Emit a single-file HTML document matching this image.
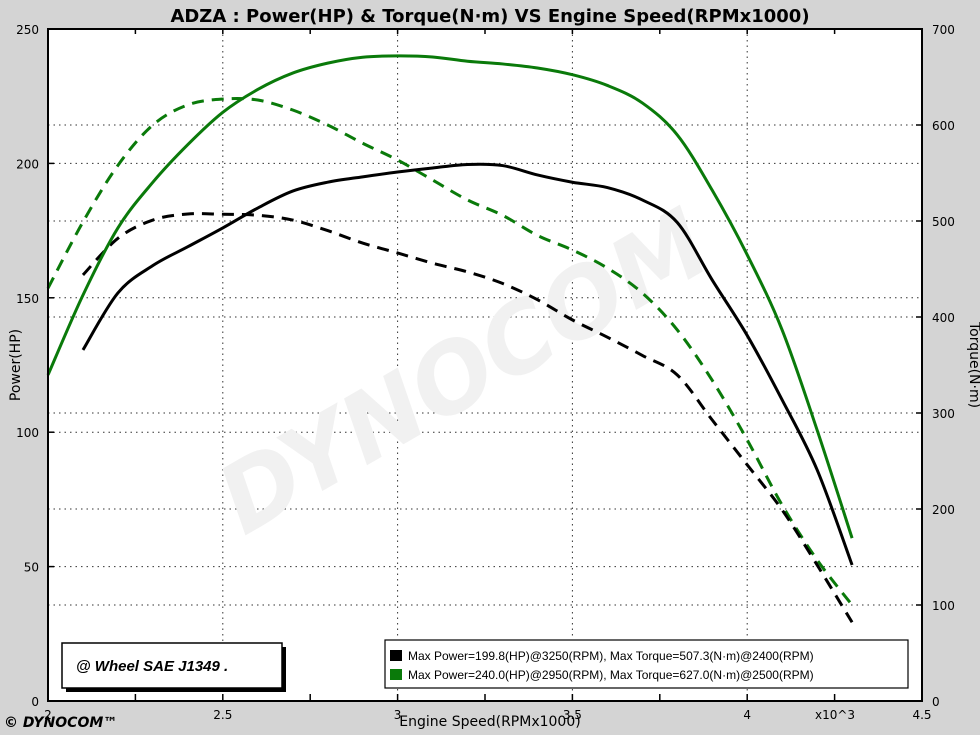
<!DOCTYPE html>
<html><head><meta charset="utf-8"><style>
html,body{margin:0;padding:0;background:#d4d4d4;}
svg{display:block;font-family:"DejaVu Sans","Liberation Sans",sans-serif;}
</style></head><body>
<svg id="chart" width="980" height="735" viewBox="0 0 980 735" xmlns="http://www.w3.org/2000/svg">
<rect x="0" y="0" width="980" height="735" fill="#d4d4d4"/>
<text x="490" y="22" text-anchor="middle" font-size="18" font-weight="bold" fill="#000">ADZA : Power(HP) &amp; Torque(N·m) VS Engine Speed(RPMx1000)</text>
<rect x="48" y="29" width="874" height="672" fill="#fff"/>
<g id="grid"></g>
<text transform="translate(480,400) rotate(-30)" text-anchor="middle" font-size="95" font-weight="bold" font-style="italic" fill="#f1f1f1">DYNOCOM</text>
<g id="series"></g>
<rect x="48" y="29" width="874" height="672" fill="none" stroke="#000" stroke-width="2"/>
<g id="axes"></g>
<text transform="translate(20,365) rotate(-90)" text-anchor="middle" font-size="14">Power(HP)</text>
<text transform="translate(970,365) rotate(90)" text-anchor="middle" font-size="14">Torque(N·m)</text>
<text x="490" y="726" text-anchor="middle" font-size="14">Engine Speed(RPMx1000)</text>
<text x="835" y="719" text-anchor="middle" font-size="12">x10^3</text>
<text x="4" y="727" font-size="14" font-weight="bold" font-style="italic">© DYNOCOM™</text>
<g>
<rect x="66" y="647" width="220" height="45" fill="#000"/>
<rect x="62" y="643" width="220" height="45" fill="#fff" stroke="#000" stroke-width="1.5"/>
<text x="76" y="671" font-size="15" font-weight="bold" font-style="italic" font-family="Liberation Sans,sans-serif">@ Wheel SAE J1349  .</text>
</g>
<g>
<rect x="385" y="640" width="523" height="48" fill="#fff" stroke="#000" stroke-width="1.2"/>
<rect x="390" y="650" width="12" height="11" fill="#000"/>
<text x="408" y="660" font-size="12" font-family="Liberation Sans,sans-serif">Max Power=199.8(HP)@3250(RPM), Max Torque=507.3(N·m)@2400(RPM)</text>
<rect x="390" y="669" width="12" height="11" fill="#0a7a0a"/>
<text x="408" y="679" font-size="12" font-family="Liberation Sans,sans-serif">Max Power=240.0(HP)@2950(RPM), Max Torque=627.0(N·m)@2500(RPM)</text>
</g>
</svg>
<script>
const rpm = [2.0,2.1,2.2,2.3,2.4,2.5,2.6,2.7,2.8,2.9,3.0,3.1,3.2,3.3,3.4,3.5,3.6,3.7,3.8,3.9,4.0,4.1,4.2,4.3];
const blackPower = [null,130.6,151.8,162,169,176,183.4,189.7,193,195,196.8,198.3,199.6,199.2,195.7,193,191,186.4,178,156.6,136,112,86,50.6];
const greenPower = [121.3,151,176,193,207,219,227.5,233.6,237.3,239.5,240,239.6,238,237,235.5,233,229,222.5,210.6,190,166,138,100.8,60.6];
const blackTorque = [null,443.8,482,501,507.3,507,506,501,490,477,466.7,456,447,435,418,397,379,360,339.6,292.7,246,199,141.7,82];
const greenTorque = [430,499,558,600,621,627,626,615.6,600,581,563.5,542.7,521.9,506,485,469.8,451,425,386.5,334,272,204,147,100];
const xTicks = [2,2.5,3,3.5,4,4.5];
const hpTicks = [0,50,100,150,200,250];
const tqTicks = [0,100,200,300,400,500,600,700];

const L=48,R=922,T=29,B=701;
const xs=v=>L+(v-2)/2.5*(R-L);
const yHP=v=>B-v/250*(B-T);
const yTQ=v=>B-v/700*(B-T);
const NS="http://www.w3.org/2000/svg";
function mk(tag,attrs,parent){const e=document.createElementNS(NS,tag);for(const k in attrs)e.setAttribute(k,attrs[k]);parent.appendChild(e);return e;}
const grid=document.getElementById('grid'),axes=document.getElementById('axes'),series=document.getElementById('series');

xTicks.forEach(v=>{
  if(v>2&&v<4.5){const g=mk('line',{x1:xs(v),x2:xs(v),y1:T,y2:B,stroke:'#333','stroke-width':1,'stroke-dasharray':'1.5,4'},grid);
  
  }
  const t=mk('text',{x:xs(v),y:719,'text-anchor':'middle','font-size':12},axes);t.textContent=v;
  
  
});
for(let v=2.25;v<4.5;v+=0.25){mk('line',{x1:xs(v),x2:xs(v),y1:B,y2:B-7,stroke:'#000','stroke-width':1.5},axes);mk('line',{x1:xs(v),x2:xs(v),y1:T,y2:T+5,stroke:'#000','stroke-width':1.5},axes);}
hpTicks.forEach(v=>{
  if(v>0&&v<250){const g=mk('line',{x1:L,x2:R,y1:yHP(v),y2:yHP(v),stroke:'#333','stroke-width':1,'stroke-dasharray':'1.5,4'},grid);
  
  }
  mk('line',{x1:L,x2:L+6,y1:yHP(v),y2:yHP(v),stroke:'#000','stroke-width':1.5},axes);
  const t=mk('text',{x:39,y:yHP(v)+5,'text-anchor':'end','font-size':12},axes);t.textContent=v;
  
  
});
tqTicks.forEach(v=>{
  if(v>0&&v<700){const g=mk('line',{x1:L,x2:R,y1:yTQ(v),y2:yTQ(v),stroke:'#333','stroke-width':1,'stroke-dasharray':'1.5,4'},grid);
  
  }
  mk('line',{x1:R-6,x2:R,y1:yTQ(v),y2:yTQ(v),stroke:'#000','stroke-width':1.5},axes);
  const t=mk('text',{x:932,y:yTQ(v)+5,'font-size':12},axes);t.textContent=v;
  
  
});

function curve(vals,yf,color,dash,name){
  const pts=[];vals.forEach((v,i)=>{if(v!==null)pts.push([xs(rpm[i]),yf(v)]);});
  let d='M'+pts[0][0]+','+pts[0][1];
  for(let i=0;i<pts.length-1;i++){
    const p0=pts[Math.max(0,i-1)],p1=pts[i],p2=pts[i+1],p3=pts[Math.min(pts.length-1,i+2)];
    const c1x=p1[0]+(p2[0]-p0[0])/6,c1y=p1[1]+(p2[1]-p0[1])/6,c2x=p2[0]-(p3[0]-p1[0])/6,c2y=p2[1]-(p3[1]-p1[1])/6;
    d+=` C${c1x},${c1y} ${c2x},${c2y} ${p2[0]},${p2[1]}`;
  }
  const p=mk('path',{d:d,fill:'none',stroke:color,'stroke-width':3},series);
  if(dash)p.setAttribute('stroke-dasharray','12,8');
  
  
}
curve(greenTorque,yTQ,'#0a7a0a',true,'green-torque-line');
curve(blackTorque,yTQ,'#000',true,'black-torque-line');
curve(greenPower,yHP,'#0a7a0a',false,'green-power-line');
curve(blackPower,yHP,'#000',false,'black-power-line');
</script>
</body></html>
